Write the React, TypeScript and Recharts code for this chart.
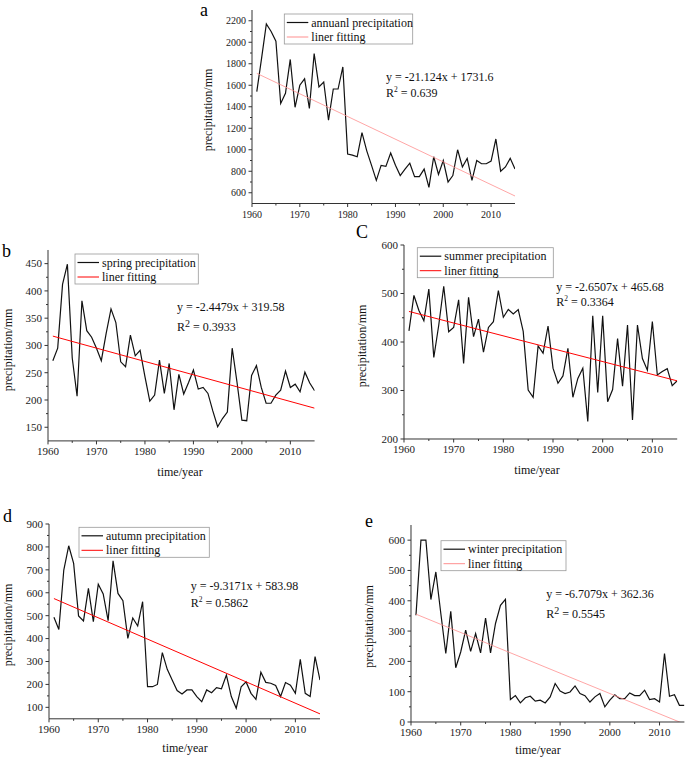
import React from 'react';
import { LineChart, Line, XAxis, YAxis } from 'recharts';

const FONT = '"Liberation Serif", "Times New Roman", serif';

const years = [
    1961, 1962, 1963, 1964, 1965, 1966, 1967, 1968, 1969, 1970,
    1971, 1972, 1973, 1974, 1975, 1976, 1977, 1978, 1979, 1980,
    1981, 1982, 1983, 1984, 1985, 1986, 1987, 1988, 1989, 1990,
    1991, 1992, 1993, 1994, 1995, 1996, 1997, 1998, 1999, 2000,
    2001, 2002, 2003, 2004, 2005, 2006, 2007, 2008, 2009, 2010,
    2011, 2012, 2013, 2014, 2015,
];

const annual = [
    1540, 1850, 2170, 2100, 2010, 1430, 1525, 1840, 1395, 1600,
    1660, 1385, 1895, 1585, 1630, 1275, 1565, 1565, 1770, 960,
    950, 935, 1160, 990, 855, 715, 855, 845, 970, 855,
    760, 820, 875, 750, 750, 820, 650, 935, 770, 900,
    700, 760, 1000, 840, 920, 715, 900, 870, 870, 895,
    1100, 800, 840, 920, 820,
];
const spring = [
    272, 295, 412, 449, 277, 207, 382, 327, 315, 295,
    272, 322, 367, 342, 270, 261, 319, 281, 291, 243,
    198, 209, 273, 212, 267, 182, 247, 211, 232, 255,
    220, 223, 212, 180, 151, 166, 178, 295, 232, 163,
    162, 245, 263, 223, 194, 194, 209, 218, 253, 223,
    229, 215, 251, 231, 217,
];
const summer = [
    423, 496, 465, 444, 509, 368, 435, 515, 421, 430,
    487, 356, 492, 411, 447, 379, 430, 442, 506, 451,
    467, 458, 467, 422, 301, 286, 392, 377, 433, 346,
    315, 330, 387, 286, 325, 346, 236, 454, 296, 454,
    277, 302, 407, 309, 435, 239, 435, 366, 342, 442,
    332, 339, 345, 310, 320,
];
const autumn = [
    493, 440, 699, 805, 728, 499, 477, 619, 474, 637,
    595, 478, 739, 597, 565, 401, 490, 455, 561, 190,
    190, 200, 339, 266, 219, 173, 158, 176, 176, 147,
    125, 176, 164, 186, 181, 241, 147, 96, 190, 211,
    161, 135, 253, 209, 205, 195, 147, 208, 197, 161,
    309, 161, 147, 321, 219,
];
const winter = [
    352, 600, 600, 404, 495, 358, 226, 365, 179, 231,
    303, 233, 292, 228, 343, 228, 325, 385, 405, 74,
    87, 63, 80, 85, 69, 72, 63, 83, 127, 102,
    94, 99, 119, 94, 87, 66, 83, 94, 50, 72,
    90, 77, 77, 96, 87, 87, 105, 74, 77, 66,
    226, 85, 90, 55, 55,
];

// end points of the fitted lines (1961 and 2015)
const trendYears = [1961, 2015];
const annualTrend = [1710.5, 569.8];
const springTrend = [317.1, 185.0];
const summerTrend = [463.0, 319.9];
const autumnTrend = [574.7, 71.5];
const winterTrend = [355.7, -6.6];

const xTicks = [1960, 1965, 1970, 1975, 1980, 1985, 1990, 1995, 2000, 2005, 2010];
const xLabels = [1960, 1970, 1980, 1990, 2000, 2010];

const annualTicks = [600, 700, 800, 900, 1000, 1100, 1200, 1300, 1400, 1500, 1600, 1700, 1800, 1900, 2000, 2100, 2200];
const annualLabels = [600, 800, 1000, 1200, 1400, 1600, 1800, 2000, 2200];
const springTicks = [150, 175, 200, 225, 250, 275, 300, 325, 350, 375, 400, 425, 450];
const springLabels = [150, 200, 250, 300, 350, 400, 450];
const summerTicks = [200, 250, 300, 350, 400, 450, 500, 550, 600];
const summerLabels = [200, 300, 400, 500, 600];
const autumnTicks = [100, 150, 200, 250, 300, 350, 400, 450, 500, 550, 600, 650, 700, 750, 800, 850, 900];
const autumnLabels = [100, 200, 300, 400, 500, 600, 700, 800, 900];
const winterTicks = [0, 50, 100, 150, 200, 250, 300, 350, 400, 450, 500, 550, 600];
const winterLabels = [0, 100, 200, 300, 400, 500, 600];

interface PanelProps {
    left: number;
    top: number;
    width: number;
    height: number;
    yDomain: [number, number];
    yTicks: number[];
    yLabels: number[];
    values: number[];
    trend: number[];
    trendColor: string;
    trendWidth: number;
    tickFont: number;
    rightBorder?: boolean;
}

const AXIS = '#333';

const Panel: React.FC<PanelProps> = ({
    left, top, width, height, yDomain, yTicks, yLabels, values, trend,
    trendColor, trendWidth, tickFont, rightBorder = true,
}) => {
    const mainData = years.map((year, i) => ({ year, value: values[i] }));
    const trendData = trendYears.map((year, i) => ({ year, value: trend[i] }));

    const xTick = (p: any) => {
        const major = xLabels.includes(p.payload.value);
        return (
            <g>
                <line x1={p.x} x2={p.x} y1={p.y} y2={p.y + (major ? 3.5 : 2)} stroke={AXIS} />
                {major && (
                    <text x={p.x} y={p.y + tickFont * 0.35 + 10.5} textAnchor="middle"
                        fontSize={tickFont} fontFamily={FONT} fill="#222">
                        {p.payload.value}
                    </text>
                )}
            </g>
        );
    };

    const yTick = (p: any) => {
        const major = yLabels.includes(p.payload.value);
        return (
            <g>
                <line x1={p.x} x2={p.x - (major ? 3.5 : 2)} y1={p.y} y2={p.y} stroke={AXIS} />
                {major && (
                    <text x={p.x - 6} y={p.y + tickFont * 0.35} textAnchor="end"
                        fontSize={tickFont} fontFamily={FONT} fill="#222">
                        {p.payload.value}
                    </text>
                )}
            </g>
        );
    };

    return (
        <div style={{ position: 'absolute', left: left - 60, top: top - 5 }}>
            <LineChart width={width + 65} height={height + 35}
                margin={{ top: 5, right: 5, bottom: 0, left: 0 }}>
                <XAxis dataKey="year" type="number" domain={[1960, 2015]} ticks={xTicks}
                    allowDataOverflow interval={0} height={30} tickSize={0} tickMargin={0}
                    tickLine={false} tick={xTick} axisLine={{ stroke: AXIS }} />
                <XAxis xAxisId="top" orientation="top" type="number" domain={[1960, 2015]}
                    height={0} tick={false} tickLine={false} axisLine={{ stroke: AXIS }} />
                <YAxis type="number" domain={yDomain} ticks={yTicks} allowDataOverflow
                    interval={0} width={60} tickSize={0} tickMargin={0} tickLine={false}
                    tick={yTick} axisLine={{ stroke: AXIS }} />
                {rightBorder && (
                    <YAxis yAxisId="right" orientation="right" type="number" domain={[0, 1]}
                        width={0} tick={false} tickLine={false} axisLine={{ stroke: AXIS }} />
                )}
                <Line data={mainData} dataKey="value" type="linear" stroke="#111"
                    strokeWidth={1.2} dot={false} isAnimationActive={false} />
                <Line data={trendData} dataKey="value" type="linear" stroke={trendColor}
                    strokeWidth={trendWidth} dot={false} isAnimationActive={false} />
            </LineChart>
        </div>
    );
};

interface LegendProps {
    x: number;
    y: number;
    w: number;
    label: string;
    trendColor: string;
}

const LegendBox: React.FC<LegendProps> = ({ x, y, w, label, trendColor }) => (
    <g fontFamily={FONT} fontSize={12} fill="#111">
        <rect x={x} y={y} width={w} height={30} fill="none" stroke="#999" strokeWidth={0.8} />
        <line x1={x + 2.5} x2={x + 24} y1={y + 8.5} y2={y + 8.5} stroke="#111" strokeWidth={1.2} />
        <text x={x + 27} y={y + 12.5}>{label}</text>
        <line x1={x + 2.5} x2={x + 24} y1={y + 23} y2={y + 23} stroke={trendColor} strokeWidth={1} />
        <text x={x + 27} y={y + 27}>liner fitting</text>
    </g>
);

interface EquationProps {
    x: number;
    y: number;
    eq: string;
    r2: string;
    gap: number;
    bigSup?: boolean;
}

const Equation: React.FC<EquationProps> = ({ x, y, eq, r2, gap, bigSup }) => (
    <g fontFamily={FONT} fontSize={12} fill="#111">
        <text x={x} y={y}>{eq}</text>
        <text x={x} y={y + gap}>
            R
            <tspan fontSize={bigSup ? 10 : 7.5} dy={bigSup ? -4.5 : -5}>2</tspan>
            <tspan dy={bigSup ? 4.5 : 5}> = {r2}</tspan>
        </text>
    </g>
);

const YTitle = ({ x, y }: { x: number; y: number }) => (
    <text x={x} y={y} transform={`rotate(-90 ${x} ${y})`} textAnchor="middle"
        dominantBaseline="central" fontFamily={FONT} fontSize={12} fill="#111">
        precipitation/mm
    </text>
);

const XTitle = ({ x, y }: { x: number; y: number }) => (
    <text x={x} y={y} textAnchor="middle" fontFamily={FONT} fontSize={12} fill="#111">
        time/year
    </text>
);

const Letter = ({ x, y, t }: { x: number; y: number; t: string }) => (
    <text x={x} y={y} fontFamily={FONT} fontSize={18} fill="#000">{t}</text>
);

const PINK = '#ff8f8f';
const RED = '#ff0000';

export default function App() {
    return (
        <div style={{ position: 'absolute', left: 0, top: 0, width: 685, height: 760, background: '#fff', overflow: 'hidden' }}>
            <Panel left={251.7} top={9.9} width={263} height={193.5} yDomain={[500, 2300]}
                yTicks={annualTicks} yLabels={annualLabels} values={annual} trend={annualTrend}
                trendColor={PINK} trendWidth={0.8} tickFont={10} />
            <Panel left={47.7} top={250.4} width={266.6} height={190.9} yDomain={[125, 475]}
                yTicks={springTicks} yLabels={springLabels} values={spring} trend={springTrend}
                trendColor={RED} trendWidth={1} tickFont={11} />
            <Panel left={404.3} top={245} width={273.2} height={194} yDomain={[200, 600]}
                yTicks={summerTicks} yLabels={summerLabels} values={summer} trend={summerTrend}
                trendColor={RED} trendWidth={1} tickFont={11} />
            <Panel left={49} top={524} width={271} height={194.8} yDomain={[50, 900]}
                yTicks={autumnTicks} yLabels={autumnLabels} values={autumn} trend={autumnTrend}
                trendColor={RED} trendWidth={1} tickFont={11} />
            <Panel left={410.7} top={524.7} width={273.4} height={197} yDomain={[0, 650]}
                yTicks={winterTicks} yLabels={winterLabels} values={winter} trend={winterTrend}
                trendColor={PINK} trendWidth={0.8} tickFont={11} rightBorder={false} />

            <svg width={685} height={760} style={{ position: 'absolute', left: 0, top: 0, pointerEvents: 'none' }}>
                <Letter x={200} y={16} t="a" />
                <Letter x={2} y={256.5} t="b" />
                <Letter x={356} y={238} t="C" />
                <Letter x={3} y={522} t="d" />
                <Letter x={365} y={527} t="e" />

                <YTitle x={207.7} y={110} />
                <YTitle x={8} y={350} />
                <YTitle x={361.7} y={346} />
                <YTitle x={7.5} y={625} />
                <YTitle x={369} y={626.5} />

                <XTitle x={180} y={475.5} />
                <XTitle x={537} y={474} />
                <XTitle x={185} y={752} />
                <XTitle x={538} y={754} />

                <LegendBox x={284.3} y={14} w={128.4} label="annuanl precipitation" trendColor={PINK} />
                <LegendBox x={75} y={254} w={123.3} label="spring precipitation" trendColor={RED} />
                <LegendBox x={417.3} y={247.7} w={136} label="summer precipitation" trendColor={RED} />
                <LegendBox x={79} y={527.3} w={130.3} label="autumn precipitation" trendColor={RED} />
                <LegendBox x={441} y={540.7} w={125} label="winter precipitation" trendColor={PINK} />

                <Equation x={386} y={81} gap={16.3} eq="y = -21.124x + 1731.6" r2="0.639" />
                <Equation x={177} y={311.3} gap={20} eq="y = -2.4479x + 319.58" r2="0.3933" bigSup />
                <Equation x={556.3} y={290.7} gap={15} eq="y = -2.6507x + 465.68" r2="0.3364" />
                <Equation x={190.7} y={590} gap={17.3} eq="y = -9.3171x + 583.98" r2="0.5862" />
                <Equation x={546.3} y={597.7} gap={20.6} eq="y = -6.7079x + 362.36" r2="0.5545" bigSup />
            </svg>
        </div>
    );
}
